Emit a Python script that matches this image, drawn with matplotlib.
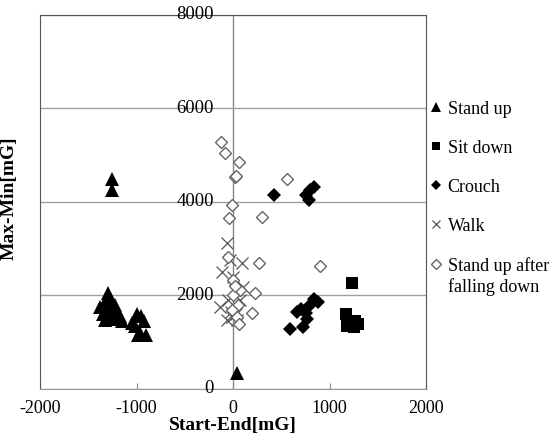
import matplotlib
matplotlib.use('Agg')
import matplotlib.pyplot as plt

plt.rcParams['font.family'] = ['Liberation Serif', 'DejaVu Serif']
plt.rcParams['axes.unicode_minus'] = False

# data (mG)
stand_x = [-1250, -1250, -1300, -1320, -1260, -1380, -1300, -1220, -1350, -1280, -1200,
           -1170, -1250, -1330, -1150, -1050, -1000, -950, -1020, -920, -960, -900, -980, 40]
stand_y = [4500, 4250, 2050, 1900, 1880, 1750, 1750, 1800, 1600, 1650, 1650,
           1550, 1500, 1480, 1450, 1420, 1600, 1550, 1350, 1450, 1200, 1150, 1150, 340]
sit_x = [1230, 1170, 1190, 1180, 1260, 1290, 1250]
sit_y = [2270, 1600, 1450, 1350, 1450, 1380, 1330]
crouch_x = [420, 760, 800, 840, 790, 590, 720, 660, 700, 760, 800, 840, 880, 770]
crouch_y = [4150, 4150, 4250, 4320, 4050, 1280, 1320, 1650, 1720, 1620, 1800, 1920, 1850, 1500]
walk_x = [-60, -115, -30, 90, 0, -135, -50, 20, -10, 40, 70, -60, 100, -20, 30]
walk_y = [3120, 2500, 2760, 2690, 2400, 1750, 1900, 2120, 1540, 1480, 1900, 1480, 2180, 1650, 1600]
fall_x = [-125, -83, 62, 20, 30, -10, -40, 300, 560, -50, 270, 900, 0, 230, 70,
          0, 50, 195, -10, 40, 60, 20]
fall_y = [5290, 5050, 4860, 4530, 4560, 3940, 3650, 3680, 4490, 2820, 2690, 2630, 2330, 2050, 2120,
          2000, 1800, 1620, 1690, 1540, 1390, 2200]

x_ticks = [-2000, -1000, 0, 1000, 2000]
y_ticks = [0, 2000, 4000, 6000, 8000]

fig = plt.figure(figsize=(5.52, 4.38), dpi=100)
ax = fig.add_axes([0.0725, 0.112, 0.6995, 0.854])

ax.plot(stand_x, stand_y, ls='none', marker='^', ms=10, color='black', mew=0, label='Stand up')
ax.plot(sit_x, sit_y, ls='none', marker='s', ms=8, color='black', mew=0, label='Sit down')
ax.plot(crouch_x, crouch_y, ls='none', marker='D', ms=7, color='black', mew=0, label='Crouch')
ax.plot(walk_x, walk_y, ls='none', marker='x', ms=8.5, color='#555555', mew=0.9, label='Walk')
ax.plot(fall_x, fall_y, ls='none', marker='D', ms=6.5, mfc='white', mec='#666666', mew=1.0,
        label='Stand up after')

ax.set_xlim(-2000, 2000)
ax.set_ylim(0, 8000)
ax.set_xticks(x_ticks)
ax.set_yticks(y_ticks)
ax.set_yticklabels([])
ax.tick_params(axis='y', length=0)
ax.tick_params(axis='x', direction='in', length=4, color='#888888', labelsize=13, pad=8)
ax.grid(axis='y', color='#a0a0a0', lw=1.0)
ax.set_axisbelow(True)
for s in ['left', 'right', 'top']:
    ax.spines[s].set_color('#555555')
ax.spines['bottom'].set_color('#999999')

# y axis drawn through x = 0
ax.axvline(0, color='#888888', lw=1.0, zorder=0.5)
for v in y_ticks:
    ax.text(-200, v, str(v), ha='right', va='center', fontsize=13.5)

ax.set_xlabel('Start-End[mG]', fontsize=14, fontweight='bold', labelpad=0)
ax.set_ylabel('Max-Min[mG]', fontsize=14, fontweight='bold')
ax.yaxis.set_label_coords(-0.057, 0.51)

leg = ax.legend(loc='upper left', bbox_to_anchor=(0.995, 0.79), frameon=False, fontsize=13,
                handlelength=0.5, handletextpad=0.4, labelspacing=1.22, markerscale=0.75,
                borderaxespad=0)

# second line of the last legend entry, under its first line
fig.canvas.draw()
last = leg.get_texts()[-1].get_window_extent()
x0, y0 = fig.transFigure.inverted().transform((last.x0, last.y0))
fig.text(x0, y0 - 0.008, 'falling down', ha='left', va='top', fontsize=13)

fig.savefig('out.png', dpi=100)
